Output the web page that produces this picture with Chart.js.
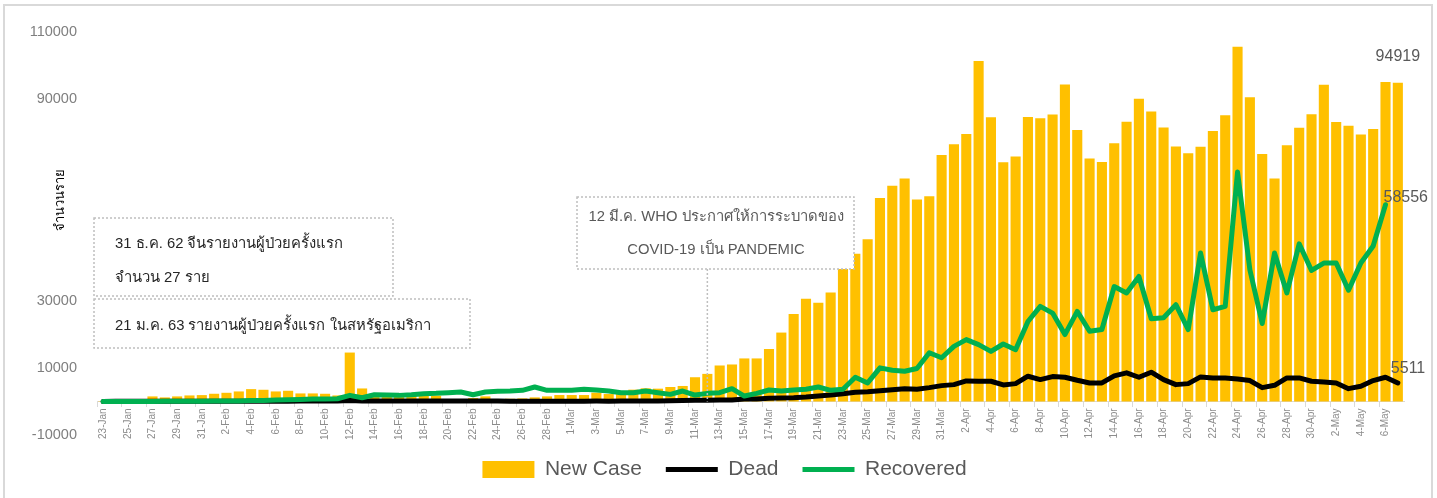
<!DOCTYPE html>
<html><head><meta charset="utf-8">
<script src="https://cdn.jsdelivr.net/npm/chart.js@4.4.1/dist/chart.umd.min.js"></script>
<style>
html,body{margin:0;padding:0;background:#fff;}
canvas{display:block;}
</style></head><body>
<canvas id="c" width="1437" height="498"></canvas>
<script>
const categories = [
'23-Jan','24-Jan','25-Jan','26-Jan','27-Jan','28-Jan','29-Jan','30-Jan','31-Jan',
'1-Feb','2-Feb','3-Feb','4-Feb','5-Feb','6-Feb','7-Feb','8-Feb','9-Feb','10-Feb','11-Feb','12-Feb','13-Feb','14-Feb','15-Feb','16-Feb','17-Feb','18-Feb','19-Feb','20-Feb','21-Feb','22-Feb','23-Feb','24-Feb','25-Feb','26-Feb','27-Feb','28-Feb','29-Feb',
'1-Mar','2-Mar','3-Mar','4-Mar','5-Mar','6-Mar','7-Mar','8-Mar','9-Mar','10-Mar','11-Mar','12-Mar','13-Mar','14-Mar','15-Mar','16-Mar','17-Mar','18-Mar','19-Mar','20-Mar','21-Mar','22-Mar','23-Mar','24-Mar','25-Mar','26-Mar','27-Mar','28-Mar','29-Mar','30-Mar','31-Mar',
'1-Apr','2-Apr','3-Apr','4-Apr','5-Apr','6-Apr','7-Apr','8-Apr','9-Apr','10-Apr','11-Apr','12-Apr','13-Apr','14-Apr','15-Apr','16-Apr','17-Apr','18-Apr','19-Apr','20-Apr','21-Apr','22-Apr','23-Apr','24-Apr','25-Apr','26-Apr','27-Apr','28-Apr','29-Apr','30-Apr',
'1-May','2-May','3-May','4-May','5-May','6-May','7-May'];

const newCase = [
100,290,490,680,1490,1190,1490,1780,1880,
2280,2570,2970,3660,3470,2970,3170,2380,2380,2280,1780,14550,3860,2280,2100,2000,2000,1800,1700,500,600,1000,1500,600,800,900,1200,1500,1900,
1900,1900,2600,2200,2600,3500,3900,3800,4300,4600,7200,8200,10700,11000,12800,12800,15600,20500,26000,30600,29400,32400,41000,44000,48300,60600,64200,66400,60100,61100,73400,
76600,79600,101400,84600,71200,72900,84700,84300,85400,94400,80800,72300,71300,76900,83300,90100,86300,81600,75900,73900,75800,80500,85200,105600,90600,73700,66400,76300,81500,85500,
94300,83200,82100,79500,81100,95100,94919];

const dead = [
10,15,15,25,25,25,40,40,45,
45,60,65,65,75,75,85,90,95,110,100,250,120,145,140,105,100,140,115,120,110,100,160,160,80,60,45,60,70,
50,70,90,85,100,100,105,100,230,280,320,350,440,410,740,750,910,1000,1100,1300,1600,1900,2300,2700,2900,3200,3500,3800,3600,4100,4700,
5000,6100,6000,6000,4900,5300,7500,6500,7400,7200,6300,5500,5500,7600,8500,7200,8700,6500,5000,5300,7300,7000,7000,6700,6200,4100,4800,7000,7000,6000,
5800,5500,3800,4500,6200,7200,5511];

const recovered = [
0,0,0,0,10,50,50,50,80,
100,150,150,250,300,400,500,600,700,750,800,1800,1100,2000,1900,1800,2000,2300,2400,2600,2800,2000,2800,3000,3100,3300,4300,3300,3300,
3300,3600,3400,3100,2600,2600,3100,2600,2100,3100,1900,2400,2600,3800,1600,2400,3400,3100,3400,3600,4300,3300,3600,7200,5500,10000,9300,9000,9800,14500,13000,
16400,18400,16900,14900,17100,15400,23800,28300,26300,19900,26800,20900,21400,34200,32300,37200,24600,24900,28800,21400,44200,27300,28300,68300,39200,23200,44200,32300,46900,39000,
41200,41200,33100,41200,46300,58556,null];

const yTicksHidden = [70000, 50000];
const seriesNames = ['New Case', 'Dead', 'Recovered'];
const axisTitle = 'จำนวนราย';
const notes = [
  ['31 ธ.ค. 62 จีนรายงานผู้ป่วยครั้งแรก', 'จำนวน 27 ราย'],
  ['21 ม.ค. 63 รายงานผู้ป่วยครั้งแรก ในสหรัฐอเมริกา'],
  ['12 มี.ค. WHO ประกาศให้การระบาดของ', 'COVID-19 เป็น PANDEMIC']
];
const noteDate = '12-Mar';

const FONT = '"Liberation Sans", "Noto Sans", "DejaVu Sans", sans-serif';
Chart.defaults.font.family = FONT;

const frame = {
  id: 'frame',
  beforeDraw(chart) {
    const ctx = chart.ctx;
    ctx.save();
    ctx.fillStyle = '#fff';
    ctx.fillRect(0, 0, chart.width, chart.height);
    ctx.strokeStyle = '#d9d9d9';
    ctx.lineWidth = 2;
    ctx.strokeRect(4, 5, 1428, 500);
    ctx.restore();
  }
};

const valueLabels = {
  id: 'valueLabels',
  afterDatasetsDraw(chart) {
    const ctx = chart.ctx;
    ctx.save();
    ctx.font = '16px ' + FONT;
    ctx.fillStyle = '#595959';
    const mBar = chart.getDatasetMeta(0);
    const lb = mBar.data[newCase.length - 1];
    ctx.textAlign = 'center'; ctx.textBaseline = 'middle';
    ctx.fillText(String(newCase[newCase.length - 1]), lb.x, lb.y - 26);
    let ri = recovered.length - 1; while (recovered[ri] == null) ri--;
    const rp = chart.getDatasetMeta(2).data[ri];
    ctx.textAlign = 'left';
    ctx.fillText(String(recovered[ri]), rp.x - 2, rp.y - 7);
    const di = dead.length - 1;
    const dp = chart.getDatasetMeta(1).data[di];
    ctx.fillText(String(dead[di]), dp.x - 7, dp.y - 14);
    ctx.restore();
  }
};

const annotations = {
  id: 'annotations',
  afterDraw(chart) {
    const {ctx, scales: {x, y}} = chart;
    ctx.save();
    const box = (l, t, r, b) => {
      ctx.fillStyle = '#fff';
      ctx.fillRect(l, t, r - l, b - t);
      ctx.setLineDash([2, 2]);
      ctx.strokeStyle = '#bfbfbf';
      ctx.lineWidth = 1.5;
      ctx.strokeRect(l, t, r - l, b - t);
      ctx.setLineDash([]);
    };
    const cx = x.getPixelForValue(categories.indexOf(noteDate));
    ctx.setLineDash([2, 2]);
    ctx.strokeStyle = '#bfbfbf';
    ctx.lineWidth = 1.5;
    ctx.beginPath(); ctx.moveTo(cx, 269); ctx.lineTo(cx, y.getPixelForValue(0)); ctx.stroke();
    ctx.setLineDash([]);

    box(94, 218, 393, 296);
    box(94, 299, 470, 348);
    box(577, 197, 854, 269);

    ctx.font = '14.8px ' + FONT;
    ctx.textBaseline = 'middle';
    ctx.textAlign = 'left';
    ctx.fillStyle = '#262626';
    ctx.fillText(notes[0][0], 115, 244);
    ctx.fillText(notes[0][1], 115, 278);
    ctx.fillText(notes[1][0], 115, 326);
    ctx.fillStyle = '#595959';
    ctx.textAlign = 'center';
    ctx.fillText(notes[2][0], 716, 217);
    ctx.fillText(notes[2][1], 716, 250);

    ctx.save();
    ctx.translate(60, y.getPixelForValue(60000));
    ctx.rotate(-Math.PI / 2);
    ctx.fillStyle = '#000';
    ctx.font = '13px ' + FONT;
    ctx.textAlign = 'center';
    ctx.fillText(axisTitle, 0, 0);
    ctx.restore();
    ctx.restore();
  }
};

new Chart(document.getElementById('c'), {
  data: {
    labels: categories,
    datasets: [
      { type: 'bar', label: seriesNames[0], data: newCase, backgroundColor: '#FFC000', borderWidth: 0,
        barPercentage: 0.82, categoryPercentage: 1, order: 3, pointStyle: 'rect' },
      { type: 'line', label: seriesNames[1], data: dead, borderColor: '#000000', backgroundColor: '#000000',
        borderWidth: 5, pointRadius: 0, tension: 0, borderCapStyle: 'round', borderJoinStyle: 'round', order: 2, pointStyle: 'line' },
      { type: 'line', label: seriesNames[2], data: recovered, borderColor: '#00B050', backgroundColor: '#00B050',
        borderWidth: 5, pointRadius: 0, tension: 0, borderCapStyle: 'round', borderJoinStyle: 'round', order: 1, pointStyle: 'line' }
    ]
  },
  options: {
    responsive: false,
    animation: false,
    devicePixelRatio: 1,
    layout: { padding: { left: 12, right: 0, top: 32, bottom: 8 } },
    scales: {
      x: {
        position: { y: 0 },
        grid: { display: true, drawOnChartArea: false, drawTicks: true, tickLength: 5, offset: true,
          color: c => (c.index % 2 === 0 ? '#d9d9d9' : 'rgba(0,0,0,0)') },
        border: { display: true, color: '#d9d9d9', width: 1 },
        ticks: { autoSkip: false, maxRotation: 90, minRotation: 90, padding: 2, color: '#8c8c8c',
          font: { size: 10 }, callback: (v, i) => (i % 2 === 0 ? categories[i] : '') }
      },
      y: {
        min: -10000, max: 110000,
        grid: { display: false },
        border: { display: false },
        ticks: { stepSize: 20000, padding: 12, color: '#7f7f7f', font: { size: 14.5 },
          callback: v => (yTicksHidden.includes(v) ? '' : String(v)) },
        afterFit: s => { s.width = 85; }
      },
      ySpacer: {
        position: 'right',
        display: true,
        grid: { display: false },
        border: { display: false },
        ticks: { display: false },
        afterFit: s => { s.width = 33; }
      }
    },
    plugins: {
      legend: {
        position: 'bottom',
        labels: { usePointStyle: true, pointStyleWidth: 52, boxHeight: 17, padding: 24,
          color: '#595959', font: { size: 21 }, sort: (a, b) => a.datasetIndex - b.datasetIndex }
      },
      tooltip: { enabled: false }
    }
  },
  plugins: [frame, valueLabels, annotations]
});
</script>
</body></html>
